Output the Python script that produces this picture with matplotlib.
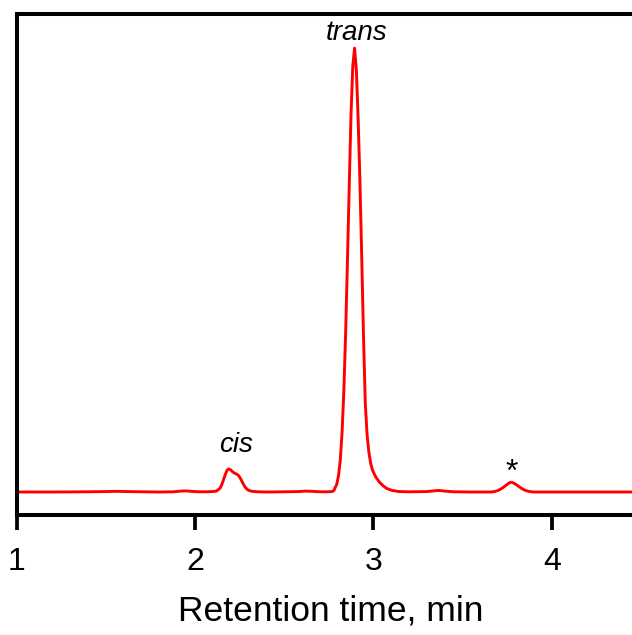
import matplotlib
matplotlib.use("Agg")
import matplotlib.pyplot as plt

plt.rcParams['font.family'] = ['Liberation Sans', 'DejaVu Sans']

# Retention time (min) and detector signal (relative, trans peak = 100)
time_min = [
    1.00, 1.20, 1.40, 1.50, 1.56, 1.62, 1.70, 1.80, 1.88, 1.92, 1.95, 1.98,
    2.02, 2.06, 2.10,
    # cis peak
    2.12, 2.14, 2.15, 2.16, 2.17, 2.18, 2.19, 2.20, 2.21, 2.22, 2.23, 2.24,
    2.25, 2.26, 2.27, 2.28, 2.29, 2.30, 2.32, 2.35,
    2.40, 2.50, 2.58, 2.62, 2.66, 2.70, 2.74,
    # trans peak
    2.770, 2.780, 2.785, 2.795, 2.805, 2.815, 2.825, 2.835, 2.845, 2.855,
    2.865, 2.875, 2.885, 2.895, 2.905, 2.915, 2.925, 2.935, 2.945, 2.955,
    2.965, 2.975, 2.985, 2.995, 3.005, 3.015, 3.035, 3.055, 3.075, 3.105,
    3.145, 3.20, 3.30, 3.35, 3.37, 3.40, 3.45, 3.55, 3.62,
    # impurity peak (*)
    3.66, 3.68, 3.70, 3.72, 3.74, 3.76, 3.77, 3.78, 3.80, 3.82, 3.84, 3.86,
    3.88, 3.90, 4.00, 4.20, 4.45,
]
signal = [
    0.00, 0.00, 0.05, 0.10, 0.15, 0.10, 0.05, 0.00, 0.05, 0.20, 0.25, 0.15,
    0.05, 0.05, 0.10,
    0.20, 0.80, 1.60, 2.70, 3.90, 4.90, 5.20, 5.00, 4.60, 4.30, 4.10, 3.90,
    3.40, 2.70, 1.90, 1.20, 0.70, 0.40, 0.15, 0.05,
    0.00, 0.05, 0.10, 0.20, 0.15, 0.05, 0.05,
    0.10, 0.40, 0.90, 1.70, 3.70, 7.30, 13.5, 23.0, 36.0, 52.0,
    69.0, 85.0, 96.0, 100.0, 95.0, 84.0, 70.0, 53.0, 35.0, 20.0,
    13.0, 9.00, 6.50, 5.00, 4.10, 3.30, 2.20, 1.40, 0.80, 0.35,
    0.10, 0.05, 0.10, 0.30, 0.35, 0.20, 0.05, 0.00, 0.00,
    0.00, 0.10, 0.35, 0.80, 1.40, 2.00, 2.20, 2.15, 1.70, 1.10, 0.60, 0.25,
    0.08, 0.00, 0.00, 0.00, 0.00,
]

xticks = [1, 2, 3, 4]
peak_labels = ["cis", "trans", "*"]
label_x = [2.23, 2.908, 3.776]
label_y = [9.0, 101.8, 2.6]
label_size = [20, 20, 23]

fig = plt.figure(figsize=(6.32, 6.35), dpi=100)
ax = fig.add_axes([16.5 / 632, 1 - 515 / 635, 1 - 16.5 / 632, (515 - 13.5) / 635])

ax.plot(time_min, signal, color='#ff0000', lw=2.1, solid_joinstyle='round')

ax.set_xlim(1, 4.45)
ax.set_ylim(-5.18, 107.8)

for side in ['left', 'bottom', 'top']:
    ax.spines[side].set_linewidth(2.9)
ax.spines['right'].set_visible(False)

ax.set_xticks(xticks)
ax.set_xticklabels([str(t) for t in xticks])
ax.tick_params(axis='x', direction='out', length=11, width=2.7, labelsize=23, pad=12)
ax.set_yticks([])
ax.set_xlabel('Retention time, min', fontsize=25.5)
ax.xaxis.set_label_coords(0.510, -0.158)

for txt, x, y, s in zip(peak_labels, label_x, label_y, label_size):
    ax.text(x, y, txt, fontsize=s, style='italic' if txt != '*' else 'normal',
            ha='center', va='baseline')

fig.savefig('out.png', dpi=100)
